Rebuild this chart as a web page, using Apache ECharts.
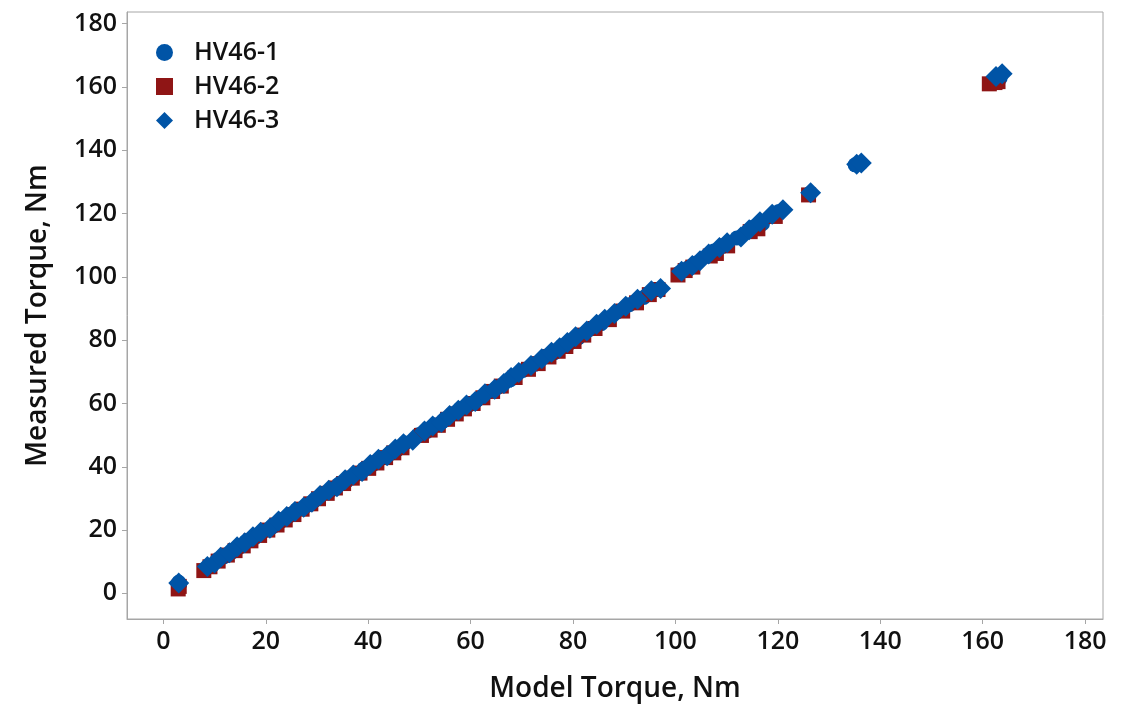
<!DOCTYPE html>
<html>
<head>
<meta charset="utf-8">
<script src="https://cdn.jsdelivr.net/npm/echarts@6/dist/echarts.min.js"></script>
<style>
    html, body { margin: 0; padding: 0; background: #fff; }
    #chart { width: 1132px; height: 706px; }
</style>
</head>
<body>
<div id="chart"></div>
<script>
// tick labels
const tickValues = [0, 20, 40, 60, 80, 100, 120, 140, 160, 180];

const seriesNames = ['HV46-1', 'HV46-2', 'HV46-3'];

// HV46-1 (circle)
const hv1Model = [3.0, 3.2, 8.2, 9.5, 11.8, 13.4, 14.9, 16.2, 17.8, 19.5, 21.3, 23.0, 24.6, 26.1, 27.9, 29.4,
    31.0, 32.7, 34.2, 35.8, 37.5, 39.1, 40.8, 42.3, 44.0, 45.6, 47.2, 49.8, 51.5, 53.0, 54.7, 56.3,
    58.0, 59.6, 61.2, 63.5, 65.1, 67.8, 70.2, 72.5, 74.6, 76.3, 77.9, 79.4, 81.0, 83.2, 85.5, 88.6,
    91.0, 93.8, 96.2, 100.8, 102.6, 104.1, 107.5, 109.2, 112.0, 115.3, 117.0, 120.2, 126.2, 135.1,
    136.2, 162.2, 163.4];
const hv1Measured = [3.5, 2.8, 7.6, 8.8, 11.5, 13.0, 14.6, 16.4, 17.5, 19.6, 21.0, 22.8, 24.5, 26.5, 27.6, 29.2,
    31.3, 32.5, 34.4, 35.5, 37.3, 39.3, 40.6, 42.6, 43.8, 45.3, 47.5, 50.1, 51.2, 53.2, 54.5, 56.6,
    58.3, 59.4, 61.0, 63.7, 64.9, 67.5, 70.4, 72.3, 74.9, 76.0, 78.2, 79.1, 80.7, 83.4, 85.2, 88.9,
    91.2, 93.5, 96.0, 101.3, 103.0, 104.4, 108.2, 109.6, 112.3, 115.8, 116.8, 120.7, 126.3, 135.4,
    135.9, 162.0, 162.8];

// HV46-2 (square)
const hv2Model = [2.9, 3.1, 7.9, 9.1, 10.7, 12.5, 14.0, 15.6, 17.1, 18.8, 20.4, 22.2, 23.8, 25.5, 27.1, 28.8,
    30.3, 32.0, 33.6, 35.2, 36.9, 38.4, 40.1, 41.7, 43.4, 45.0, 46.6, 50.4, 52.1, 53.7, 55.5, 57.2,
    58.8, 60.5, 62.4, 64.3, 66.0, 68.7, 71.3, 73.2, 75.3, 77.1, 78.6, 80.2, 82.1, 84.3, 87.1, 89.7,
    92.4, 94.9, 96.6, 100.5, 101.9, 103.4, 106.8, 108.0, 110.2, 114.6, 116.1, 119.5, 126.0, 161.3,
    162.4, 163.0];
const hv2Measured = [1.4, 2.2, 7.2, 8.4, 10.2, 12.1, 13.5, 15.0, 16.6, 18.3, 20.0, 21.6, 23.2, 24.9, 26.6, 28.3,
    29.9, 31.6, 33.3, 34.7, 36.4, 38.0, 39.5, 41.2, 42.9, 44.4, 46.0, 49.9, 51.6, 53.1, 55.0, 56.7,
    58.3, 60.0, 61.8, 63.8, 65.5, 68.2, 70.8, 72.6, 74.7, 76.5, 78.0, 79.6, 81.6, 83.7, 86.5, 89.2,
    91.8, 94.4, 96.0, 100.6, 102.0, 103.1, 106.6, 107.4, 109.8, 114.3, 115.2, 119.1, 125.9, 161.0,
    161.4, 161.7];

// HV46-3 (diamond)
const hv3Model = [3.0, 8.6, 10.0, 11.2, 12.9, 14.4, 15.9, 17.5, 19.0, 20.8, 22.5, 24.1, 25.7, 27.4, 29.0, 30.6,
    32.3, 33.9, 35.5, 37.1, 38.8, 40.4, 42.0, 43.7, 45.3, 46.9, 48.7, 51.0, 52.6, 54.3, 55.9, 57.6,
    59.2, 60.9, 62.8, 64.7, 66.5, 67.9, 69.4, 71.8, 73.9, 75.8, 77.4, 78.9, 80.5, 82.7, 84.6, 86.2,
    88.1, 90.3, 92.6, 95.3, 97.1, 101.2, 103.3, 104.8, 106.5, 108.6, 110.1, 112.8, 114.4, 116.5,
    118.9, 121.0, 126.4, 135.4, 136.3, 162.6, 163.8];
const hv3Measured = [3.3, 8.5, 9.6, 11.4, 12.8, 14.7, 16.0, 17.9, 19.3, 20.6, 22.9, 24.3, 25.9, 27.2, 28.8, 30.9,
    32.6, 33.7, 35.9, 37.4, 38.5, 40.7, 42.4, 43.5, 45.6, 47.3, 48.4, 51.3, 52.9, 54.1, 56.2, 57.9,
    59.5, 60.6, 63.1, 64.5, 66.3, 68.2, 69.8, 72.0, 74.1, 76.2, 77.6, 79.3, 81.1, 82.9, 85.0, 86.6,
    88.4, 90.7, 92.9, 95.6, 96.3, 101.8, 103.6, 105.1, 107.2, 109.3, 110.8, 112.6, 114.9, 117.4,
    119.8, 121.2, 126.6, 135.6, 136.0, 163.3, 164.2];

const blue = '#0054a6';
const red = '#8f1515';
const axisGray = '#a6a6a6';
const fontFamily = '"Open Sans", "Noto Sans", sans-serif';

function toPoints(xs, ys) {
    return xs.map((x, i) => [x, ys[i]]);
}

function renderChart() {
    const chart = echarts.init(document.getElementById('chart'), null, { renderer: 'canvas' });

    const axisCommon = {
        type: 'value',
        interval: 20,
        axisLine: { show: true, onZero: false, lineStyle: { color: axisGray, width: 1 } },
        axisTick: {
            show: true,
            inside: false,
            length: 5,
            lineStyle: { color: axisGray },
            customValues: tickValues
        },
        splitLine: { show: false },
        nameTextStyle: { fontFamily: fontFamily, fontSize: 28, fontWeight: 600, color: '#111' }
    };

    const labelCommon = {
        fontFamily: fontFamily,
        fontSize: 25,
        fontWeight: 600,
        color: '#111',
        margin: 10,
        customValues: tickValues
    };

    const option = {
        animation: false,
        backgroundColor: '#fff',
        textStyle: { fontFamily: fontFamily },
        grid: {
            left: 127,
            right: 29,
            top: 12,
            bottom: 87,
            outerBoundsMode: 'none',
            show: true,
            borderColor: axisGray,
            borderWidth: 1
        },
        legend: {
            orient: 'vertical',
            left: 151,
            top: 35,
            itemWidth: 17,
            itemHeight: 17,
            itemGap: 9,
            textStyle: { fontFamily: fontFamily, fontSize: 25, fontWeight: 600, color: '#111', padding: [0, 0, 0, 16] },
            data: [
                { name: seriesNames[0], icon: 'circle' },
                { name: seriesNames[1], icon: 'rect' },
                { name: seriesNames[2], icon: 'diamond' }
            ]
        },
        xAxis: Object.assign({}, axisCommon, {
            min: -7.1,
            max: 183.5,
            name: 'Model Torque, Nm',
            nameLocation: 'middle',
            nameGap: 56,
            axisLabel: labelCommon
        }),
        yAxis: Object.assign({}, axisCommon, {
            min: -8.1,
            max: 183.7,
            name: 'Measured Torque, Nm',
            nameLocation: 'middle',
            nameGap: 75,
            axisLabel: labelCommon
        }),
        series: [
            {
                name: seriesNames[0],
                type: 'scatter',
                symbol: 'circle',
                symbolSize: 15,
                itemStyle: { color: blue, opacity: 1 },
                data: toPoints(hv1Model, hv1Measured)
            },
            {
                name: seriesNames[1],
                type: 'scatter',
                symbol: 'rect',
                symbolSize: 15,
                itemStyle: { color: red, opacity: 1 },
                data: toPoints(hv2Model, hv2Measured)
            },
            {
                name: seriesNames[2],
                type: 'scatter',
                symbol: 'diamond',
                symbolSize: 21,
                itemStyle: { color: blue, opacity: 1 },
                data: toPoints(hv3Model, hv3Measured)
            }
        ]
    };

    chart.setOption(option);
    return chart;
}

document.addEventListener('DOMContentLoaded', renderChart);
</script>
</body>
</html>
